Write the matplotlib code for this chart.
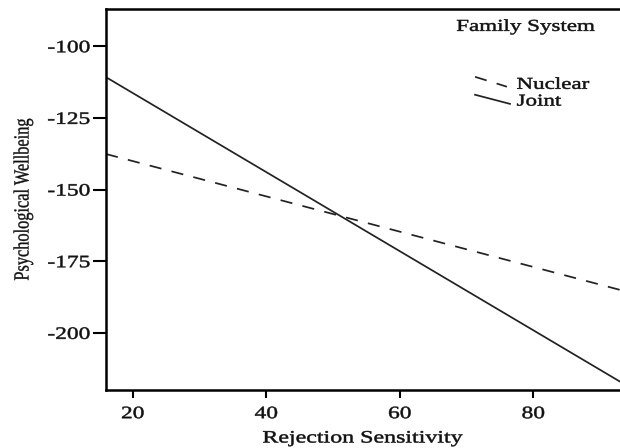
import matplotlib.pyplot as plt
from matplotlib import patheffects
from matplotlib.transforms import Affine2D

plt.rcParams["font.family"] = ["Liberation Serif", "DejaVu Serif"]
plt.rcParams["axes.unicode_minus"] = False

# simple-slope endpoints
rejection = [16, 93]
nuclear = [-137.6, -185.0]
joint = [-110.8, -217.0]

x_ticks = [20, 40, 60, 80]
y_ticks = [-100, -125, -150, -175, -200]
group_labels = ["Nuclear", "Joint"]


class Widen(patheffects.AbstractPathEffect):
    """Stretch glyphs around a pivot (0 left, 0.5 centre, 1 right),
    with a thin outline to thicken the strokes a little."""

    def __init__(self, sx=1.35, frac=0.5, lw=0.35, sy=1.0):
        super().__init__()
        self.sx, self.frac, self.lw, self.sy = sx, frac, lw, sy

    def draw_path(self, renderer, gc, tpath, affine, rgbFace=None):
        ext = tpath.get_extents()
        p = ext.x0 + self.frac * ext.width
        a = Affine2D().translate(-p, 0).scale(self.sx, self.sy).translate(p, 0) + affine
        gc0 = renderer.new_gc()
        gc0.copy_properties(gc)
        gc0.set_linewidth(self.lw)
        gc0.set_foreground(rgbFace)
        renderer.draw_path(gc0, tpath, a, rgbFace)
        gc0.restore()


ink = "#111111"
line_c = "#222222"
fig = plt.figure(figsize=(6.2, 4.48), dpi=100)
ax = fig.add_axes([0.171, 0.129, 0.829, 0.851])

ax.plot(rejection, nuclear, color=line_c, lw=1.25, dashes=[7, 6])
ax.plot(rejection, joint, color=line_c, lw=1.25)

ax.set_xlim(16, 93)
ax.set_ylim(-220, -87)
ax.set_xticks(x_ticks)
ax.set_yticks(y_ticks)
ax.tick_params(axis="y", length=9.5, width=1.5, labelsize=12.5, pad=2, labelcolor=ink)
ax.tick_params(axis="x", length=6, width=1.5, labelsize=12.5, pad=5.5, labelcolor=ink)
ax.spines["right"].set_visible(False)
for side in ("left", "top", "bottom"):
    ax.spines[side].set_linewidth(1.8)
for lab in ax.get_xticklabels():
    lab.set_path_effects([Widen(1.35, 0.5)])
for lab in ax.get_yticklabels():
    lab.set_path_effects([Widen(1.35, 1.0)])

ax.set_xlabel("Rejection Sensitivity", fontsize=12.5, color=ink, labelpad=6,
              path_effects=[Widen(1.38, 0.5)])
ax.set_ylabel("Psychological Wellbeing", fontsize=12, color=ink,
              path_effects=[Widen(0.98, 0.5, lw=0.25, sy=1.3)])
ax.yaxis.set_label_coords(-0.143, 0.5)

# legend drawn by hand: slanted handles like the source figure
ax.text(0.951, 0.953, "Family System", transform=ax.transAxes, ha="right", va="center",
        fontsize=12, color=ink, path_effects=[Widen(1.38, 1.0)])
ax.plot([0.718, 0.780], [0.822, 0.796], transform=ax.transAxes, color=line_c, lw=1.25,
        dashes=[7, 6])
ax.plot([0.718, 0.786], [0.775, 0.751], transform=ax.transAxes, color=line_c, lw=1.25)
for ypos, name in zip([0.801, 0.757], group_labels):
    ax.text(0.799, ypos, name, transform=ax.transAxes, ha="left", va="center", fontsize=12,
            color=ink, path_effects=[Widen(1.38, 0.0)])

fig.savefig("out.png", dpi=100)
